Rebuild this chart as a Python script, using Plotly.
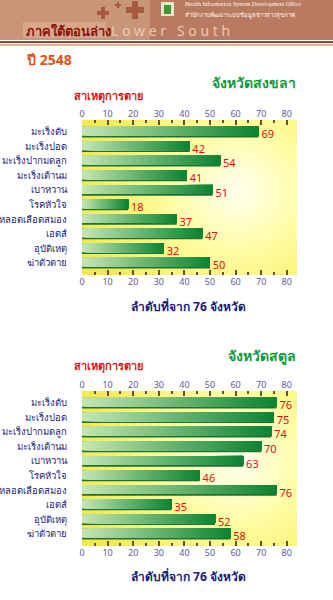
import numpy as np
import plotly.graph_objects as go

W, H = 333, 600

causes = ["มะเร็งตับ", "มะเร็งปอด", "มะเร็งปากมดลูก", "มะเร็งเต้านม", "เบาหวาน",
          "โรคหัวใจ", "หลอดเลือดสมอง", "เอดส์", "อุบัติเหตุ", "ฆ่าตัวตาย"]
songkhla = [69, 42, 54, 41, 51, 18, 37, 47, 32, 50]
satun = [76, 75, 74, 70, 63, 46, 76, 35, 52, 58]
tick_vals = [0, 10, 20, 30, 40, 50, 60, 70, 80]
province_titles = ["จังหวัดสงขลา", "จังหวัดสตูล"]
year_label = "ปี 2548"
axis_title = "ลำดับที่จาก 76 จังหวัด"
cause_title = "สาเหตุการตาย"

FONT = "Noto Sans, DejaVu Sans, Liberation Sans, sans-serif"
XR = [0, 84]
YR = [9.83, -0.82]
x_dom = [82 / W, 297 / W]
panels = [
    dict(vals=songkhla, top=120, bot=275, xa="x", ya="y", xb="x3"),
    dict(vals=satun, top=391, bot=546, xa="x2", ya="y2", xb="x4"),
]

fig = go.Figure()

light = np.array([0xc4, 0xe6, 0xb4])
dark = np.array([0x0c, 0x84, 0x33])
NSEG = 64

def hexc(c):
    return "#%02x%02x%02x" % tuple(int(round(v)) for v in c)

# background gradient (styling)
gx = np.linspace(XR[0], XR[1], 30)
gy = np.linspace(YR[1], YR[0], 20)
cx, cy = 0.72 * XR[1], 4.0
zz = np.sqrt(((gx[None, :] - cx) / 55) ** 2 + ((gy[:, None] - cy) / 9) ** 2)

for i, p in enumerate(panels):
    fig.add_trace(go.Heatmap(x=gx, y=gy, z=zz, zsmooth="best", showscale=False,
                             colorscale=[[0, "#fffff0"], [0.45, "#fffca0"], [1, "#f4ea50"]],
                             zmin=0, zmax=1.1, hoverinfo="skip", xaxis=p["xa"], yaxis=p["ya"]))
    ypos = list(range(len(causes)))
    # shadow / base bar
    fig.add_trace(go.Bar(x=p["vals"], y=ypos, orientation="h", width=0.74, offset=-0.36,
                         marker=dict(color="#1d7232", line=dict(width=0)),
                         hoverinfo="skip", xaxis=p["xa"], yaxis=p["ya"]))
    for s in range(NSEG):
        t = s / (NSEG - 1)
        col = hexc(light + (dark - light) * t)
        fig.add_trace(go.Bar(x=[v * (NSEG - s) / NSEG for v in p["vals"]],
                             base=[v * s / NSEG for v in p["vals"]],
                             y=ypos, orientation="h", width=0.62, offset=-0.36,
                             marker=dict(color=col, line=dict(width=0)),
                             hoverinfo="skip", xaxis=p["xa"], yaxis=p["ya"]))
    fig.add_trace(go.Scatter(x=p["vals"], y=[y + 0.25 for y in ypos], mode="text",
                             text=[" " + str(v) for v in p["vals"]], textposition="middle right",
                             textfont=dict(family=FONT, size=11, color="#e01010"),
                             hoverinfo="skip", xaxis=p["xa"], yaxis=p["ya"]))
    # dummy trace for bottom axis
    fig.add_trace(go.Scatter(x=[None], y=[None], xaxis=p["xb"], yaxis=p["ya"],
                             showlegend=False, hoverinfo="skip"))

tickfont = dict(family=FONT, size=9, color="#5a5aa0")
common_x = dict(range=XR, tickvals=tick_vals, ticks="inside", ticklen=5, tickwidth=1.5,
                tickcolor="#6a5030", showgrid=False, zeroline=False, showline=False,
                tickfont=tickfont, fixedrange=True, automargin=False,
                minor=dict(dtick=5, tick0=0, ticks="inside", ticklen=3, tickwidth=1.5,
                           tickcolor="#6a5030", showgrid=False))
layout = dict(
    width=W, height=H, margin=dict(l=0, r=0, t=0, b=0),
    paper_bgcolor="white", plot_bgcolor="#fffca8",
    barmode="overlay", showlegend=False,
)
for i, p in enumerate(panels):
    ydom = [1 - p["bot"] / H, 1 - p["top"] / H]
    sfx = "" if i == 0 else "2"
    layout["xaxis" + sfx] = dict(common_x, domain=x_dom, side="top", anchor=p["ya"])
    bsfx = "3" if i == 0 else "4"
    layout["xaxis" + bsfx] = dict(common_x, domain=x_dom, side="bottom", anchor=p["ya"],
                                  overlaying=p["xa"])
    layout["yaxis" + sfx] = dict(domain=ydom, range=YR, tickvals=list(range(len(causes))),
                                 ticktext=causes, ticks="", showgrid=False, zeroline=False,
                                 showline=False, anchor=p["xa"], fixedrange=True,
                                 automargin=False,
                                 tickfont=dict(family=FONT, size=9.5, color="#1a1a78"),
                                 ticklabelstandoff=14)
fig.update_layout(**layout)

shapes = []
annos = []
# header banner
shapes.append(dict(type="rect", xref="paper", yref="paper", x0=0, x1=1, y0=1 - 40 / H, y1=1,
                   fillcolor="#b97a62", line=dict(width=0), layer="above"))
shapes.append(dict(type="rect", xref="paper", yref="paper", x0=0, x1=150 / W, y0=1 - 40 / H, y1=1,
                   fillcolor="#c99578", line=dict(width=0), layer="above"))
shapes.append(dict(type="rect", xref="paper", yref="paper", x0=23 / W, x1=106 / W,
                   y0=1 - 38 / H, y1=1 - 22 / H, fillcolor="#d9a78a", line=dict(width=0), layer="above"))
for (px, py, sz) in [(103, 13, 6), (118, 5, 3), (135, 10, 9)]:
    shapes.append(dict(type="rect", xref="paper", yref="paper", x0=(px - sz) / W, x1=(px + sz) / W,
                       y0=1 - (py + sz / 3) / H, y1=1 - (py - sz / 3) / H,
                       fillcolor="#a85a40", line=dict(width=0), layer="above"))
    shapes.append(dict(type="rect", xref="paper", yref="paper", x0=(px - sz / 3) / W, x1=(px + sz / 3) / W,
                       y0=1 - (py + sz) / H, y1=1 - (py - sz) / H,
                       fillcolor="#a85a40", line=dict(width=0), layer="above"))
shapes.append(dict(type="rect", xref="paper", yref="paper", x0=161 / W, x1=174 / W,
                   y0=1 - 16 / H, y1=1 - 2 / H, fillcolor="#e8e4c8", line=dict(width=0), layer="above"))
shapes.append(dict(type="rect", xref="paper", yref="paper", x0=164 / W, x1=171 / W,
                   y0=1 - 14 / H, y1=1 - 5 / H, fillcolor="#3a9a3a", line=dict(width=0), layer="above"))
shapes.append(dict(type="line", xref="paper", yref="paper", x0=0, x1=1, y0=1 - 42 / H, y1=1 - 42 / H,
                   line=dict(color="#a0401c", width=2)))
shapes.append(dict(type="line", xref="paper", yref="paper", x0=0, x1=1, y0=1 - 45 / H, y1=1 - 45 / H,
                   line=dict(color="#c06a48", width=1)))

annos.append(dict(text="<b>ภาคใต้ตอนล่าง</b>", x=24 / W, y=1 - 31 / H, xref="paper", yref="paper",
                  xanchor="left", yanchor="middle", showarrow=False,
                  font=dict(family=FONT, size=13, color="#8b1508")))
annos.append(dict(text="L o w e r   S o u t h", x=109 / W, y=1 - 31 / H, xref="paper", yref="paper",
                  xanchor="left", yanchor="middle", showarrow=False,
                  font=dict(family=FONT, size=14, color="#e9c9b2")))
annos.append(dict(text="Health Information System Development Office", x=183 / W, y=1 - 4 / H,
                  xref="paper", yref="paper", xanchor="left", yanchor="middle", showarrow=False,
                  font=dict(family="Liberation Serif, serif", size=6, color="#fff4ea")))
annos.append(dict(text="สำนักงานพัฒนาระบบข้อมูลข่าวสารสุขภาพ", x=183 / W, y=1 - 15 / H,
                  xref="paper", yref="paper", xanchor="left", yanchor="middle", showarrow=False,
                  font=dict(family=FONT, size=6, color="#fff4ea")))
annos.append(dict(text="<b>" + year_label + "</b>", x=24 / W, y=1 - 60 / H, xref="paper", yref="paper",
                  xanchor="left", yanchor="middle", showarrow=False,
                  font=dict(family=FONT, size=14, color="#e2521e")))

title_y = [83, 355]
cause_y = [96, 366]
xtitle_y = [306, 576]
for i, p in enumerate(panels):
    annos.append(dict(text="<b>" + province_titles[i] + "</b>", x=298 / W, y=1 - title_y[i] / H,
                      xref="paper", yref="paper", xanchor="right", yanchor="middle", showarrow=False,
                      font=dict(family=FONT, size=14, color="#129a3a")))
    annos.append(dict(text="<b>" + cause_title + "</b>", x=72 / W, y=1 - cause_y[i] / H,
                      xref="paper", yref="paper", xanchor="left", yanchor="middle", showarrow=False,
                      font=dict(family=FONT, size=11, color="#d81818")))
    annos.append(dict(text="<b>" + axis_title + "</b>", x=188 / W, y=1 - xtitle_y[i] / H,
                      xref="paper", yref="paper", xanchor="center", yanchor="middle", showarrow=False,
                      font=dict(family=FONT, size=12, color="#1a1a78")))

fig.update_layout(shapes=shapes, annotations=annos)
fig.write_html("out.html")
